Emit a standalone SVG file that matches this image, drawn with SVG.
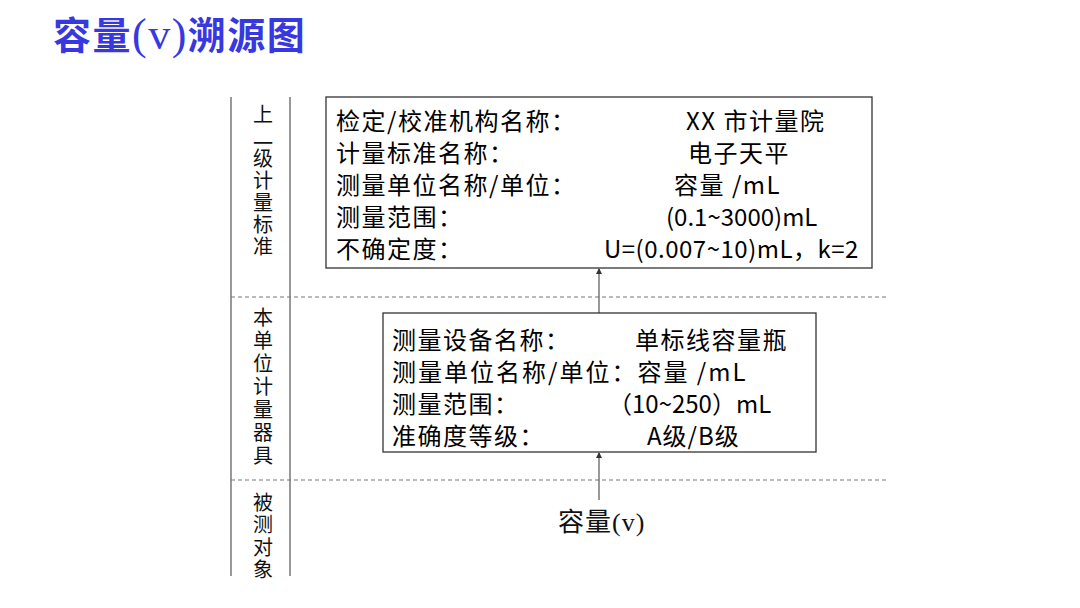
<svg xmlns="http://www.w3.org/2000/svg" width="1080" height="608" viewBox="0 0 1080 608">
<style>
.t{font-family:"Noto Sans CJK SC","Liberation Sans",sans-serif;font-size:24px;fill:#000}
.c{letter-spacing:1.5px}
.side{font-family:"Noto Sans CJK SC","Liberation Sans",sans-serif;font-size:20px;fill:#111;text-anchor:middle}
.vt{font-family:"Noto Sans CJK SC","Liberation Sans",sans-serif;font-size:20px;fill:#111;writing-mode:vertical-rl}
.box{fill:#fff;stroke:#333;stroke-width:1.3}
.vl{stroke:#777;stroke-width:1.5}
.dl{stroke:#777;stroke-width:1.2;stroke-dasharray:4 3}
.ar{stroke:#555;stroke-width:1.2;marker-end:url(#ah)}
</style>
<defs>
<marker id="ah" markerWidth="6" markerHeight="8" refX="5" refY="4" orient="auto" markerUnits="userSpaceOnUse">
<path d="M0,1 L6,4 L0,7 Z" fill="#333"/>
</marker>
</defs>
<rect width="1080" height="608" fill="#fff"/>
<text x="53" y="49" font-family="Noto Sans CJK SC,sans-serif" font-size="38" font-weight="bold" fill="#3838e0" letter-spacing="1.5"><tspan>容量</tspan><tspan font-family="Liberation Serif,serif" font-weight="normal" font-size="44">(v)</tspan><tspan>溯源图</tspan></text>
<g id="frame">
<line class="vl" x1="231" y1="97" x2="231" y2="576"/>
<line class="vl" x1="290" y1="97" x2="290" y2="576"/>
<line class="dl" x1="231" y1="297" x2="888" y2="297"/>
<line class="dl" x1="231" y1="480" x2="888" y2="480"/>
</g>
<g id="labels">
<text class="side" x="263" y="122">上</text>
<text class="vt" x="263" y="133" letter-spacing="2"><tspan letter-spacing="-5">一</tspan>级计量标准</text>
<text class="vt" x="263" y="307" letter-spacing="3">本单位计量器具</text>
<text class="vt" x="263" y="492" letter-spacing="2.5">被测对象</text>
</g>
<g id="connectors">
<line class="ar" x1="599" y1="313" x2="599" y2="269"/>
<line class="ar" x1="599" y1="500" x2="599" y2="453"/>
</g>
<g id="upper">
<rect class="box" x="326" y="97" width="546" height="171"/>
<text class="t c" x="336" y="130">检定/校准机构名称：</text>
<text class="t c" x="686" y="130">XX 市计量院</text>
<text class="t c" x="336" y="162">计量标准名称：</text>
<text class="t c" x="688" y="162">电子天平</text>
<text class="t c" x="336" y="194">测量单位名称/单位：</text>
<text class="t c" x="674" y="194">容量 /mL</text>
<text class="t c" x="336" y="226">测量范围：</text>
<text class="t" x="666" y="226">(0.1~3000)mL</text>
<text class="t c" x="336" y="258">不确定度：</text>
<text class="t" x="604" y="258" letter-spacing="0.5">U=(0.007~10)mL，k=2</text>
</g>
<g id="device">
<rect class="box" x="383" y="313" width="433" height="139"/>
<text class="t c" x="392" y="349">测量设备名称：</text>
<text class="t c" x="635" y="349">单标线容量瓶</text>
<text class="t" x="392" y="381" letter-spacing="2">测量单位名称/单位：容量 /mL</text>
<text class="t c" x="392" y="413">测量范围：</text>
<text class="t" x="608" y="413">（10~250）mL</text>
<text class="t c" x="392" y="445">准确度等级：</text>
<text class="t" x="647" y="445" letter-spacing="1">A级/B级</text>
</g>
<g id="object">
<text x="558" y="531" font-family="Liberation Serif,Noto Sans CJK SC,serif" font-size="26" fill="#111" letter-spacing="1">容量(v)</text>
</g>
</svg>
